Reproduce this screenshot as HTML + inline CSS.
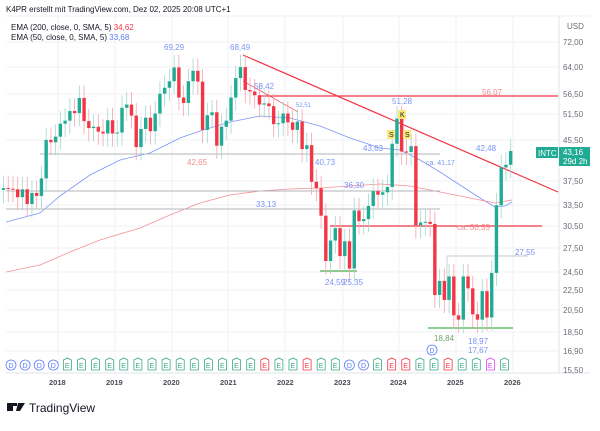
<!DOCTYPE html>
<html><head><meta charset="utf-8"><style>
body{margin:0;background:#fff;width:600px;height:426px;overflow:hidden;font-family:"Liberation Sans",sans-serif}
svg text{font-family:"Liberation Sans",sans-serif}
</style></head><body>
<svg id="s" width="600" height="426" xmlns="http://www.w3.org/2000/svg">
<rect width="600" height="426" fill="#fff"/>
<g id="grid" stroke="#f0f1f4" stroke-width="1"></g>
<line x1="559" y1="16" x2="559" y2="373" stroke="#e0e3eb"/>
<line x1="6" y1="373" x2="590" y2="373" stroke="#e0e3eb"/>
<line x1="6" y1="16" x2="590" y2="16" stroke="#f0f1f4"/>
<text x="6" y="12" font-size="8" fill="#131722">K4PR erstellt mit TradingView.com, Dez 02, 2025 20:08 UTC+1</text>
<text x="11" y="30" font-size="8" fill="#131722">EMA (200, close, 0, SMA, 5) <tspan fill="#f23645">34,62</tspan></text>
<text x="11" y="40" font-size="8" fill="#131722">EMA (50, close, 0, SMA, 5) <tspan fill="#5b7cfa">33,68</tspan></text>
<g id="lines"></g>
<g id="candles"></g>
<g font-size="8" fill="#7a93f5">
<text x="164" y="50">69,29</text><text x="230" y="50">68,49</text><text x="254" y="89">58,42</text>
<text x="296" y="107" font-size="6">52,51</text><text x="392" y="104">51,28</text><text x="187" y="165" fill="#f28b8b">42,65</text>
<text x="315" y="165">40,73</text><text x="363" y="151">43,63</text><text x="426" y="165" font-size="7">ca. 41,17</text>
<text x="476" y="151">42,48</text><text x="344" y="188">36,30</text><text x="256" y="207">33,13</text>
<text x="515" y="255">27,55</text><text x="325" y="285">24,59</text><text x="343" y="285">25,35</text>
<text x="468" y="344">18,97</text><text x="468" y="353" fill="#7a93f5">17,67</text>
<text x="434" y="341" fill="#6aa36a">18,84</text>
<text x="482" y="95" fill="#f28b8b">56,07</text><text x="457" y="230" fill="#f28b8b">ca. 30,35</text>
</g>
<g font-size="7" fill="#131722">
<rect x="387" y="130" width="8" height="9" fill="#f9e97a"/><text x="389" y="137">S</text>
<rect x="398" y="110" width="8" height="9" fill="#f9e97a"/><text x="400" y="117">K</text>
<rect x="403" y="130" width="8" height="9" fill="#f9e97a"/><text x="405" y="137">S</text>
</g>
<g font-size="8" fill="#6a6d78">
<text x="567" y="29">USD</text>
<text x="563" y="45">72,00</text><text x="563" y="70">64,00</text><text x="563" y="97">56,50</text>
<text x="563" y="117">51,50</text><text x="563" y="143">45,50</text><text x="563" y="184">37,50</text>
<text x="563" y="208">33,50</text><text x="563" y="229">30,50</text><text x="563" y="251">27,50</text>
<text x="563" y="275">24,50</text><text x="563" y="293">22,50</text><text x="563" y="313">20,50</text>
<text x="563" y="335">18,50</text><text x="563" y="354">16,90</text><text x="563" y="373">15,50</text>
</g>
<rect x="536" y="147" width="22" height="11" fill="#22ab94"/><text x="538" y="156" font-size="8" fill="#fff">INTC</text>
<rect x="559" y="147" width="31" height="19" fill="#22ab94"/>
<text x="563" y="155" font-size="8" fill="#fff">43,16</text><text x="563" y="164" font-size="8" fill="#fff">29d 2h</text>
<g id="markers"></g>
<g font-size="7.5" fill="#4a4d58" font-weight="bold">
<text x="49" y="385">2018</text><text x="106" y="385">2019</text><text x="163" y="385">2020</text>
<text x="220" y="385">2021</text><text x="277" y="385">2022</text><text x="334" y="385">2023</text>
<text x="390" y="385">2024</text><text x="447" y="385">2025</text><text x="504" y="385">2026</text>
</g>
<rect x="7" y="403" width="6" height="8" fill="#131722"/><rect x="7" y="403" width="10" height="3" fill="#131722"/>
<polygon points="18,403 25,403 20,411 16,411" fill="#131722"/>
<text x="29" y="412" font-size="12" fill="#131722">TradingView</text>
</svg>
<script>
var ns="http://www.w3.org/2000/svg";
function Y(p){return 42+213.4*(Math.log(72)-Math.log(p));}
function el(g,t,a){var e=document.createElementNS(ns,t);for(var k in a)e.setAttribute(k,a[k]);document.getElementById(g).appendChild(e);return e;}
[42,67,94,114,140,181,205,226,248,272,290,310,332,351].forEach(function(y){el("grid","line",{x1:6,x2:559,y1:y,y2:y});});
[58,115,172,228,285,343,399,456,513].forEach(function(x){el("grid","line",{x1:x,x2:x,y1:16,y2:373});});
var C=[36.3,36.2,36.1,34.8,36.1,33.7,35.5,35.0,38.0,45.5,45.0,46.2,
49.1,49.8,52.1,51.6,55.4,49.7,48.1,48.4,47.3,46.9,49.9,46.9,
47.1,52.9,53.7,51.0,44.0,47.9,50.5,47.4,51.5,56.5,58.1,59.9,
63.9,55.5,54.1,59.9,62.9,59.8,47.7,51.1,51.8,44.3,48.4,49.8,
55.5,60.8,64.0,57.5,57.1,56.1,53.7,54.0,53.3,49.0,49.2,51.5,
49.4,47.7,49.6,43.6,44.4,37.4,36.3,31.9,25.8,28.4,30.1,26.4,
28.3,24.9,32.7,31.1,31.4,33.4,35.8,35.2,35.6,36.5,44.7,50.3,
43.1,43.0,44.2,30.5,30.9,31.0,30.7,22.0,23.5,21.5,24.0,20.0,
19.6,24.0,22.7,20.1,19.6,22.4,19.8,24.4,33.5,40.0,40.5,43.2];
var prev=36.0;
C.forEach(function(c,i){var o=prev;prev=c;var x=3.5+i*4.74;var up=c>=o;var col=up?"#22ab94":"#f23645";
var hi=Math.max(o,c)*1.06,lo=Math.min(o,c)*0.94;
el("candles","line",{x1:x,x2:x,y1:Y(hi),y2:Y(lo),stroke:up?"#9fd8cc":"#f7a4a9","stroke-width":0.8});
var y1=Y(Math.max(o,c)),y2=Y(Math.min(o,c));el("candles","rect",{x:x-1.7,y:y1,width:3.4,height:Math.max(1,y2-y1),fill:col});});
function pl(pts,col,w){el("lines","polyline",{points:pts,fill:"none",stroke:col,"stroke-width":w});}
pl("6,222 40,213 60,196 90,175 120,160 150,153 180,138 200,131 230,122 260,116 290,118 320,126 350,138 380,148 400,150 420,160 440,172 460,185 480,198 495,207 505,206 512,202","#7d95f7",0.8);
pl("6,272 40,265 70,252 100,240 140,228 170,215 200,203 230,195 260,191 290,189 320,188 350,186 380,184 410,186 440,192 470,198 495,203 512,200","#f49096",0.8);
pl("40,154 440,154","#b2b5be",1);pl("6,191 440,191","#b2b5be",1);pl("6,209 440,209","#b2b5be",1);
pl("447,256 528,256","#b2b5be",0.8);pl("447,256 447,300","#b2b5be",0.6);
pl("243,55 558,192","#f23645",1.2);pl("258,96 558,96","#f23645",1.2);pl("330,226 542,226","#f23645",1.2);
pl("243,81 298,112","#f23645",0.7);
pl("320,271 357,271","#4caf50",1.3);pl("428,328 513,328","#4caf50",1.3);
var xs=[];for(var i=0;i<36;i++){var x=6+i*14.1;
var d=i<4||(i>=24&&i<26)?"D":"E";var red=[18,21,27,28,31].indexOf(i)>=0;var col=d=="D"?"#5b7cfa":(red?"#f23645":"#3aa889");
if(i==34)col="#e040fb";
if(d=="D"){el("markers","circle",{cx:x+5,cy:365,r:5,fill:"#fff",stroke:col,"stroke-width":0.8});}
else el("markers","polygon",{points:(x+1)+",360 "+(x+5)+",358 "+(x+9)+",360 "+(x+9)+",370 "+(x+1)+",370",fill:"#fff",stroke:col,"stroke-width":0.8});
var t=el("markers","text",{x:x+2.5,y:368,"font-size":7,fill:col});t.textContent=d;}
el("markers","circle",{cx:432,cy:350,r:5,fill:"#fff",stroke:"#5b7cfa","stroke-width":0.8});
var t=el("markers","text",{x:429.5,y:353,"font-size":7,fill:"#5b7cfa"});t.textContent="D";
</script>
</body></html>
